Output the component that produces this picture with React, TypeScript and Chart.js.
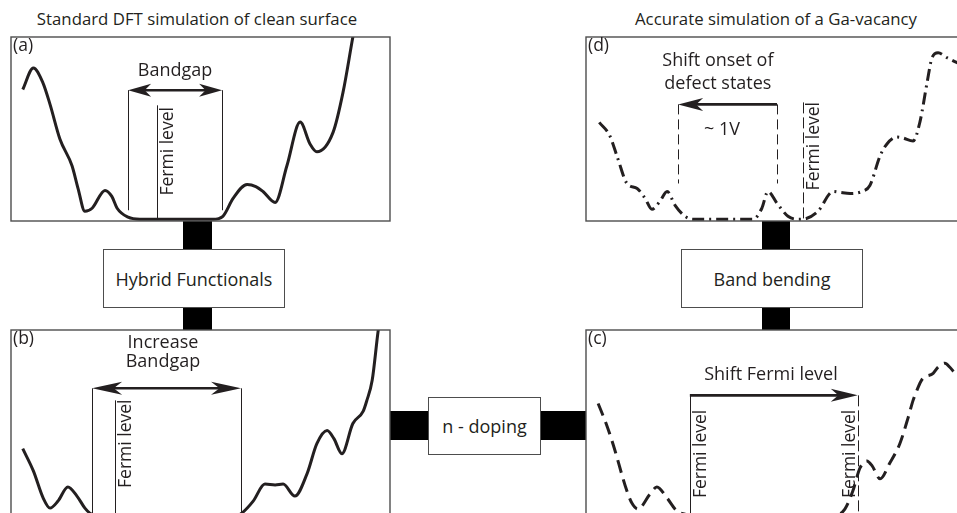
import React, { useEffect, useRef } from "react";
import { Chart, registerables } from "chart.js";

Chart.register(...registerables);

const FONT = '"Open Sans", "Noto Sans", sans-serif';
const INK = "#231f20";

// ---- Data (energy axis 0..100, density of states 0..100) ----
// (a) Standard DFT, clean surface
const energyA = [3.1, 5.9, 8.4, 10.3, 12.9, 16.1, 17.7, 19.5, 21.4, 24.8, 26.6, 28.0, 30.9, 34.0, 53.3, 55.9, 58.6, 62.3, 64.6, 66.5, 69.7, 72.8, 76.3, 78.9, 80.7, 85.0, 87.6, 90.2, 91.0];
const dosA = [71.2, 83.0, 75.0, 63.0, 44.0, 29.3, 16.8, 4.3, 6.0, 15.8, 12.5, 6.0, 1.1, 0, 0, 1.6, 11.4, 19.0, 17.9, 15.2, 9.2, 29.3, 53.3, 41.3, 37.0, 47.8, 69.6, 100, 109];

// (b) Hybrid functionals, larger bandgap
const energyB = [3.1, 5.9, 8.5, 10.3, 12.4, 15.0, 17.4, 19.5, 20.8, 22.2, 59.9, 60.9, 63.9, 67.0, 69.7, 71.8, 74.9, 78.1, 80.7, 83.4, 85.2, 87.3, 90.2, 92.9, 93.9, 95.3, 96.8, 97.3];
const dosB = [35.9, 23.9, 9.2, 3.8, 7.6, 15.2, 10.3, 3.8, 1.1, 0, 0, 1.1, 7.6, 16.8, 16.3, 16.8, 10.3, 22.3, 38.6, 45.7, 41.3, 33.2, 49.5, 56.0, 62.0, 72.8, 98.4, 106];

// (c) n-doping, shifted Fermi level
const energyC = [3.2, 5.3, 7.1, 10.8, 12.1, 13.7, 16.9, 18.7, 21.4, 24.0, 26.1, 27.4, 65.7, 68.3, 70.4, 72.3, 74.1, 75.5, 77.6, 80.2, 82.8, 85.0, 86.3, 87.3, 88.7, 91.6, 92.9, 94.7, 96.0, 97.4, 100];
const dosC = [60.3, 49.5, 38.6, 13.0, 6.5, 3.3, 11.4, 15.2, 9.2, 2.2, 0.5, 0, 0, 3.3, 13.0, 25.5, 29.3, 26.6, 19.6, 28.3, 38.6, 52.7, 62.0, 67.4, 73.4, 76.6, 79.9, 82.1, 79.9, 76.6, 72.8];

// (d) Ga-vacancy with band bending
const energyD = [3.5, 6.3, 8.4, 10.8, 13.5, 15.6, 17.4, 19.5, 21.4, 23.5, 26.1, 28.2, 44.1, 46.4, 48.0, 50.4, 53.3, 55.7, 58.3, 61.2, 65.2, 67.0, 69.7, 72.8, 74.9, 77.6, 79.4, 82.1, 83.6, 86.3, 88.1, 90.0, 91.3, 92.9, 95.3, 97.9, 100];
const dosD = [53.1, 45.7, 33.2, 19.6, 16.8, 11.4, 5.4, 9.8, 15.2, 7.6, 1.6, 0, 0, 6.0, 15.2, 8.7, 1.6, 0, 0.5, 4.3, 15.2, 14.7, 14.1, 15.2, 18.5, 34.8, 41.3, 45.1, 44.6, 42.9, 53.3, 75.0, 88.6, 91.3, 88.6, 85.9, 84.2];

const titles = ["Standard DFT simulation of clean surface", "Accurate simulation of a Ga-vacancy"];
const steps = ["Hybrid Functionals", "Band bending", "n - doping"];

// ---- Layout ----
const PW = 379;
const PAD = 6;

type Mark =
  | { kind: "text"; x: number; y: number; text: string }
  | { kind: "vline"; x: number; y0: number; y1: number; dash?: number[] }
  | { kind: "arrow"; y: number; x0: number; x1: number; heads: "both" | "start" | "end"; len: number; half: number }
  | { kind: "vtext"; x: number; y: number; text: string; side: "right" | "left" };

interface PanelCfg {
  left: number;
  top: number;
  height: number;
  label: string;
  energy: number[];
  dos: number[];
  dash: number[];
  marks: Mark[];
}

const panels: PanelCfg[] = [
  {
    left: 11, top: 37, height: 184, label: "(a)", energy: energyA, dos: dosA, dash: [],
    marks: [
      { kind: "vline", x: 30.9, y0: 4.9, y1: 70.8 },
      { kind: "vline", x: 55.7, y0: 4.9, y1: 70.8 },
      { kind: "vline", x: 38.5, y0: 0, y1: 62.5 },
      { kind: "arrow", y: 70.8, x0: 30.9, x1: 55.7, heads: "both", len: 23, half: 6.5 },
      { kind: "text", x: 43.3, y: 81.5, text: "Bandgap" },
      { kind: "vtext", x: 38.5, y: 13, text: "Fermi level", side: "right" },
    ],
  },
  {
    left: 11, top: 330, height: 187, label: "(b)", energy: energyB, dos: dosB, dash: [],
    marks: [
      { kind: "vline", x: 21.4, y0: 0, y1: 68.5 },
      { kind: "vline", x: 60.7, y0: 0, y1: 68.5 },
      { kind: "vline", x: 27.4, y0: 0, y1: 62.0 },
      { kind: "arrow", y: 68.5, x0: 21.4, x1: 60.7, heads: "both", len: 30, half: 6.5 },
      { kind: "text", x: 40.1, y: 93, text: "Increase" },
      { kind: "text", x: 40.1, y: 82.9, text: "Bandgap" },
      { kind: "vtext", x: 27.4, y: 14.7, text: "Fermi level", side: "right" },
    ],
  },
  {
    left: 586, top: 330, height: 187, label: "(c)", energy: energyC, dos: dosC, dash: [13, 7],
    marks: [
      { kind: "vline", x: 27.4, y0: 0, y1: 64.7 },
      { kind: "vline", x: 71.7, y0: 0, y1: 64.7, dash: [11, 4] },
      { kind: "arrow", y: 64.7, x0: 27.4, x1: 71.7, heads: "end", len: 27, half: 6.5 },
      { kind: "text", x: 48.8, y: 75.8, text: "Shift Fermi level" },
      { kind: "vtext", x: 27.4, y: 9.2, text: "Fermi level", side: "right" },
      { kind: "vtext", x: 71.7, y: 9.2, text: "Fermi level", side: "left" },
    ],
  },
  {
    left: 586, top: 37, height: 184, label: "(d)", energy: energyD, dos: dosD, dash: [12, 5, 2, 5],
    marks: [
      { kind: "vline", x: 24.3, y0: 19.6, y1: 63.0, dash: [10, 5] },
      { kind: "vline", x: 50.4, y0: 19.6, y1: 63.0, dash: [10, 5] },
      { kind: "vline", x: 57.3, y0: 0, y1: 64.1, dash: [11, 4] },
      { kind: "arrow", y: 63.0, x0: 24.3, x1: 50.4, heads: "start", len: 25, half: 6.5 },
      { kind: "text", x: 34.8, y: 86.7, text: "Shift onset of" },
      { kind: "text", x: 34.8, y: 74.5, text: "defect states" },
      { kind: "text", x: 35.9, y: 48.9, text: "~ 1V" },
      { kind: "vtext", x: 57.3, y: 15.8, text: "Fermi level", side: "right" },
    ],
  },
];

function drawHead(ctx: CanvasRenderingContext2D, tipX: number, y: number, dir: number, len: number, half: number) {
  ctx.beginPath();
  ctx.moveTo(tipX, y);
  ctx.lineTo(tipX - dir * len, y - half);
  ctx.lineTo(tipX - dir * len * 0.72, y);
  ctx.lineTo(tipX - dir * len, y + half);
  ctx.closePath();
  ctx.fill();
}

const decorPlugin = {
  id: "panelDecor",
  afterDatasetsDraw(chart: any) {
    const opts = chart.options.plugins.panelDecor;
    if (!opts) return;
    const { ctx, chartArea } = chart;
    const xs = chart.scales.x;
    const ys = chart.scales.y;
    ctx.save();
    ctx.strokeStyle = "#4d4d4d";
    ctx.lineWidth = 1.4;
    ctx.setLineDash([]);
    ctx.strokeRect(chartArea.left, chartArea.top, chartArea.right - chartArea.left, chartArea.bottom - chartArea.top);
    ctx.fillStyle = INK;
    ctx.font = `17.5px ${FONT}`;
    ctx.textAlign = "left";
    ctx.textBaseline = "top";
    ctx.fillText(opts.label, chartArea.left + 2, chartArea.top);

    for (const m of opts.marks as Mark[]) {
      if (m.kind === "vline") {
        const px = Math.round(xs.getPixelForValue(m.x)) + 0.5;
        ctx.strokeStyle = INK;
        ctx.lineWidth = 1;
        ctx.setLineDash(m.dash || []);
        ctx.beginPath();
        ctx.moveTo(px, ys.getPixelForValue(m.y1));
        ctx.lineTo(px, ys.getPixelForValue(m.y0));
        ctx.stroke();
        ctx.setLineDash([]);
      } else if (m.kind === "arrow") {
        const py = ys.getPixelForValue(m.y);
        const a = xs.getPixelForValue(m.x0);
        const b = xs.getPixelForValue(m.x1);
        const s = m.heads === "both" || m.heads === "start" ? a + m.len * 0.7 : a;
        const e = m.heads === "both" || m.heads === "end" ? b - m.len * 0.7 : b;
        ctx.strokeStyle = INK;
        ctx.fillStyle = INK;
        ctx.lineWidth = 2.6;
        ctx.beginPath();
        ctx.moveTo(s, py);
        ctx.lineTo(e, py);
        ctx.stroke();
        if (m.heads === "both" || m.heads === "start") drawHead(ctx, a, py, -1, m.len, m.half);
        if (m.heads === "both" || m.heads === "end") drawHead(ctx, b, py, 1, m.len, m.half);
      } else if (m.kind === "text") {
        ctx.fillStyle = INK;
        ctx.font = `18px ${FONT}`;
        ctx.textAlign = "center";
        ctx.textBaseline = "middle";
        ctx.fillText(m.text, xs.getPixelForValue(m.x), ys.getPixelForValue(m.y));
      } else if (m.kind === "vtext") {
        const px = xs.getPixelForValue(m.x);
        const py = ys.getPixelForValue(m.y);
        ctx.save();
        ctx.fillStyle = INK;
        ctx.font = `17.5px ${FONT}`;
        ctx.textAlign = "left";
        if (m.side === "right") {
          ctx.translate(px + 2, py);
          ctx.rotate(-Math.PI / 2);
          ctx.textBaseline = "top";
        } else {
          ctx.translate(px - 3, py);
          ctx.rotate(-Math.PI / 2);
          ctx.textBaseline = "alphabetic";
        }
        ctx.fillText(m.text, 0, 0);
        ctx.restore();
      }
    }
    ctx.restore();
  },
};

function Panel({ cfg }: { cfg: PanelCfg }) {
  const ref = useRef<HTMLCanvasElement>(null);
  useEffect(() => {
    const chart = new Chart(ref.current as HTMLCanvasElement, {
      type: "line",
      data: {
        datasets: [
          {
            data: cfg.energy.map((e, i) => ({ x: e, y: cfg.dos[i] })),
            borderColor: INK,
            borderWidth: 3,
            borderDash: cfg.dash,
            borderCapStyle: "butt",
            pointRadius: 0,
            fill: false,
            cubicInterpolationMode: "monotone",
            clip: { left: 5, top: 0, right: 5, bottom: 5 } as any,
          },
        ],
      },
      options: {
        responsive: false,
        animation: false,
        devicePixelRatio: 1,
        layout: { padding: PAD },
        events: [],
        scales: {
          x: { type: "linear", min: 0, max: 100, display: false },
          y: { type: "linear", min: -1, max: 100, display: false },
        },
        plugins: {
          legend: { display: false },
          tooltip: { enabled: false },
          panelDecor: { label: cfg.label, marks: cfg.marks },
        } as any,
      },
      plugins: [decorPlugin],
    });
    return () => chart.destroy();
  }, [cfg]);
  return (
    <canvas
      ref={ref}
      width={PW + PAD * 2}
      height={cfg.height + PAD * 2}
      style={{ position: "absolute", left: cfg.left - PAD, top: cfg.top - PAD }}
    />
  );
}

const bar = (left: number, top: number, width: number, height: number): React.CSSProperties => ({
  position: "absolute", left, top, width, height, background: "#000",
});

const box = (left: number, top: number, width: number, height: number): React.CSSProperties => ({
  position: "absolute", left, top, width, height, boxSizing: "border-box",
  border: "1.4px solid #4d4d4d", background: "#fff",
  display: "flex", alignItems: "center", justifyContent: "center",
  fontSize: 18, color: INK, fontFamily: FONT, whiteSpace: "nowrap",
});

const titleStyle = (cx: number): React.CSSProperties => ({
  position: "absolute", left: cx - 250, width: 500, top: 6, textAlign: "center",
  fontSize: 16.8, color: INK, fontFamily: FONT, lineHeight: "26px", whiteSpace: "nowrap",
});

export default function App() {
  return (
    <div style={{ position: "fixed", left: 0, top: 0, width: 957, height: 513, overflow: "hidden", background: "#fff" }}>
      <div style={titleStyle(197)}>{titles[0]}</div>
      <div style={titleStyle(776)}>{titles[1]}</div>

      <div style={bar(183, 221, 29, 28)} />
      <div style={bar(183, 307, 29, 23)} />
      <div style={box(103, 249, 182, 59)}>{steps[0]}</div>

      <div style={bar(762, 221, 28, 28)} />
      <div style={bar(762, 307, 28, 23)} />
      <div style={box(681, 249, 182, 59)}>{steps[1]}</div>

      <div style={bar(390, 411, 40, 29)} />
      <div style={bar(540, 411, 46, 29)} />
      <div style={box(428, 397, 113, 58)}>{steps[2]}</div>

      {panels.map((p) => (
        <Panel key={p.label} cfg={p} />
      ))}
    </div>
  );
}
